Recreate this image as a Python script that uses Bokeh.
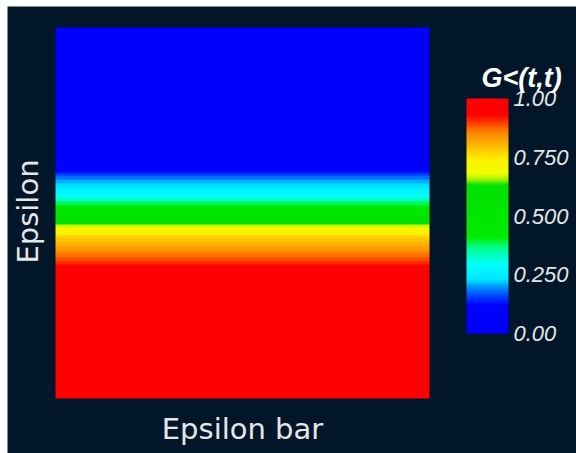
import numpy as np
from bokeh.plotting import figure
from bokeh.models import LinearColorMapper, ColorBar, FixedTicker, Range1d, Label
from bokeh.embed import file_html
from bokeh.resources import INLINE

# Occupation G<(t,t) as a function of Epsilon (bands); constant along Epsilon bar.
eps_edges = [1.00, 0.26, 0.24, 0.22, 0.20, 0.18, 0.16, 0.14, 0.12, 0.10, 0.08,
             0.06, 0.04, 0.02, 0.00, -0.02, -0.04, -0.06, -0.08, -0.10, -0.12,
             -0.14, -0.16, -0.18, -0.20, -0.22, -0.24, -0.26, -0.28, -0.30,
             -0.32, -0.34, -0.36, -0.38, -1.00]
g_values = [0.00, 0.06, 0.11, 0.15, 0.18, 0.21, 0.23, 0.25, 0.27, 0.30, 0.34,
            0.38, 0.43, 0.48, 0.53, 0.58, 0.62, 0.67, 0.71, 0.74, 0.77,
            0.79, 0.81, 0.83, 0.85, 0.87, 0.89, 0.91, 0.93, 0.95, 0.97,
            0.98, 0.99, 1.00]
epsbar_range = [0.0, 1.0]

colorbar_ticks = [0.0, 0.25, 0.5, 0.75, 1.0]
colorbar_labels = ["0.00", "0.250", "0.500", "0.750", "1.00"]
colorbar_title = "G<(t,t)"
x_title = "Epsilon bar"
y_title = "Epsilon"

# Rainbow-style colour map with a sharp green/yellow step
cmap_pos = [0.00, 0.12, 0.18, 0.23, 0.29, 0.36, 0.41, 0.63, 0.655, 0.68, 0.74, 0.86, 0.93, 1.00]
cmap_rgb = [(0, 0, 255), (0, 0, 255), (0, 110, 255), (0, 230, 255), (0, 255, 255),
            (0, 255, 150), (0, 235, 0), (0, 225, 0), (150, 240, 0), (240, 255, 0),
            (255, 240, 0), (255, 130, 0), (255, 0, 0), (255, 0, 0)]
rgb = np.array(cmap_rgb, dtype=float)
palette = []
for v in np.linspace(0, 1, 256):
    r, g, b = (np.interp(v, cmap_pos, rgb[:, k]) for k in range(3))
    palette.append("#%02x%02x%02x" % (int(round(r)), int(round(g)), int(round(b))))

BG = "#02162a"
TXT = "#e6e6e6"

# Page layout (pixels): canvas and the heat-map box inside it
W, H = 569, 447
MAP_L, MAP_R, MAP_T, MAP_B = 48, 422, 21, 392

x_per_px = (epsbar_range[1] - epsbar_range[0]) / (MAP_R - MAP_L)
y_per_px = (eps_edges[0] - eps_edges[-1]) / (MAP_B - MAP_T)
x_lo = epsbar_range[0] - MAP_L * x_per_px
x_hi = epsbar_range[1] + (W - MAP_R) * x_per_px
y_hi = eps_edges[0] + MAP_T * y_per_px
y_lo = eps_edges[-1] - (H - MAP_B) * y_per_px

def px_x(px):
    return x_lo + px * x_per_px

def px_y(py):
    return y_hi - py * y_per_px

mapper = LinearColorMapper(palette=palette, low=0.0, high=1.0)

# Uniform grid of rows (bottom to top); each row takes the value of the band it lies in
step = 0.02
n_rows = int(round((eps_edges[0] - eps_edges[-1]) / step))
centers = eps_edges[-1] + step * (np.arange(n_rows) + 0.5)
tops = np.array(eps_edges[:-1])
band_idx = np.array([np.nonzero(tops >= c)[0][-1] for c in centers])
column = np.array(g_values)[band_idx]
img = np.repeat(column[:, None], 2, axis=1)

p = figure(width=W, height=H, margin=(6, 0, 0, 7),
           x_range=Range1d(x_lo, x_hi), y_range=Range1d(y_lo, y_hi),
           output_backend="svg", toolbar_location=None,
           min_border=0, background_fill_color=BG, border_fill_color=BG,
           outline_line_color=None)
p.axis.visible = False
p.grid.visible = False

p.image(image=[img], x=epsbar_range[0], y=eps_edges[-1],
        dw=epsbar_range[1] - epsbar_range[0], dh=eps_edges[0] - eps_edges[-1],
        color_mapper=mapper)

# Axis titles
p.add_layout(Label(x=(epsbar_range[0] + epsbar_range[1]) / 2, y=px_y(422),
                   text=x_title, text_align="center", text_baseline="alphabetic",
                   text_font="DejaVu Sans", text_font_size="29px", text_color=TXT))
p.add_layout(Label(x=px_x(20), y=px_y(205), angle=np.pi / 2,
                   text=y_title, text_align="center", text_baseline="middle",
                   text_font="DejaVu Sans", text_font_size="29px", text_color=TXT))

cb = ColorBar(color_mapper=mapper, ticker=FixedTicker(ticks=colorbar_ticks),
              major_label_overrides=dict(zip(colorbar_ticks, colorbar_labels)),
              width=42, height=235, padding=0, margin=0, location=(459, 120),
              major_label_text_font="Liberation Sans", major_label_text_font_size="22px",
              major_label_text_font_style="italic", major_label_text_color=TXT,
              major_tick_line_color=None, bar_line_color=None,
              background_fill_color=None, border_line_color=None, label_standoff=5)
p.add_layout(cb, "center")

# Colour bar heading above the bar
p.add_layout(Label(x=px_x(514), y=px_y(71), text=colorbar_title, text_align="center",
                   text_baseline="alphabetic", text_font="Liberation Sans",
                   text_font_size="27px", text_font_style="bold italic",
                   text_color="#ffffff"))

open("out.html", "w").write(file_html(p, INLINE))
